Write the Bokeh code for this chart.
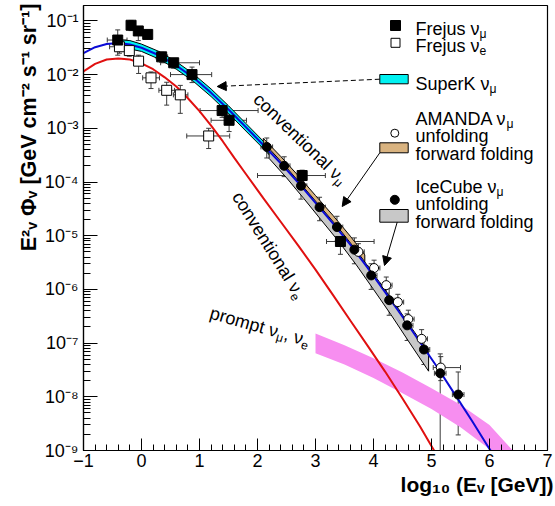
from math import cos, sin, radians
from bokeh.plotting import figure
from bokeh.models import (Range1d, FixedTicker, CustomJSTickFormatter, Label, Arrow,
                          NormalHead, Whisker, TeeHead, ColumnDataSource, Title)
from bokeh.embed import file_html
from bokeh.resources import INLINE

# ---------------- data ----------------
# conventional nu_mu (blue) and nu_e (red) model curves: log10(E/GeV) vs E^2 Phi
conv_numu_x = [-1.0, -0.8, -0.6, -0.4, -0.2, 0.0, 0.3, 0.6, 0.9, 1.2, 1.5, 1.8, 2.1, 2.4,
               2.7, 3.0, 3.3, 3.6, 3.9, 4.2, 4.5, 4.8, 5.1, 5.4, 5.7, 6.0, 6.1]
conv_numu_flux = [2.51e-2, 3.24e-2, 3.72e-2, 3.89e-2, 3.63e-2, 3.16e-2, 2.29e-2, 1.48e-2,
                  8.7e-3, 4.57e-3, 2.24e-3, 1.05e-3, 4.9e-4, 2.24e-4, 9.8e-5, 4.07e-5,
                  1.70e-5, 6.8e-6, 2.51e-6, 8.9e-7, 3.09e-7, 1.05e-7, 3.55e-8, 1.12e-8,
                  3.55e-9, 1.07e-9, 7.4e-10]

conv_nue_x = [-1.0, -0.8, -0.6, -0.4, -0.2, 0.0, 0.2, 0.4, 0.6, 0.8, 1.0, 1.2, 1.4, 1.6,
              1.8, 2.1, 2.4, 2.7, 3.0, 3.3, 3.6, 3.9, 4.2, 4.5, 4.8, 5.1]
conv_nue_flux = [1.15e-2, 1.58e-2, 1.91e-2, 2.0e-2, 1.91e-2, 1.62e-2, 1.26e-2, 8.9e-3,
                 6.0e-3, 3.63e-3, 2.09e-3, 1.12e-3, 5.75e-4, 2.82e-4, 1.41e-4, 5.0e-5,
                 1.82e-5, 6.6e-6, 2.34e-6, 7.9e-7, 2.63e-7, 8.9e-8, 2.95e-8, 9.3e-9,
                 2.82e-9, 7.9e-10]

# prompt nu_mu, nu_e band (magenta)
prompt_x = [3.0, 3.5, 4.0, 4.5, 5.0, 5.5, 6.0, 6.5]
prompt_hi = [1.51e-7, 9.1e-8, 5.2e-8, 2.82e-8, 1.45e-8, 7.1e-9, 3.0e-9, 7.6e-10]
prompt_lo = [6.5e-8, 4.0e-8, 2.24e-8, 1.17e-8, 5.9e-9, 2.7e-9, 1.07e-9, 3.2e-10]

# SuperK nu_mu band (cyan)
superk_x = [-0.45, -0.2, 0.0, 0.3, 0.6, 0.9, 1.2, 1.5, 1.8, 2.1, 2.4, 2.7, 3.0]
superk_hi = [4.5e-2, 4.3e-2, 3.7e-2, 2.7e-2, 1.74e-2, 1.02e-2, 5.4e-3, 2.63e-3, 1.23e-3,
             5.75e-4, 2.63e-4, 1.15e-4, 4.8e-5]
superk_lo = [2.8e-2, 3.0e-2, 2.7e-2, 1.95e-2, 1.26e-2, 7.4e-3, 3.9e-3, 1.9e-3, 8.9e-4,
             4.2e-4, 1.9e-4, 8.3e-5, 3.5e-5]

# AMANDA forward folding band (tan)
amanda_ff_x = [2.1, 2.4, 2.7, 3.0, 3.3, 3.6, 3.85]
amanda_ff_hi = [6.5e-4, 3.0e-4, 1.32e-4, 5.6e-5, 2.4e-5, 9.8e-6, 4.4e-6]
amanda_ff_lo = [4.4e-4, 2.0e-4, 8.7e-5, 3.6e-5, 1.51e-5, 6.0e-6, 2.6e-6]

# IceCube forward folding band (grey)
icecube_ff_x = [2.2, 2.5, 2.8, 3.1, 3.4, 3.7, 4.0, 4.3, 4.6, 4.95]
icecube_ff_hi = [4.2e-4, 1.86e-4, 7.9e-5, 3.3e-5, 1.38e-5, 5.4e-6, 1.95e-6, 6.9e-7,
                 2.34e-7, 6.8e-8]
icecube_ff_lo = [2.75e-4, 1.2e-4, 4.9e-5, 1.95e-5, 7.8e-6, 2.9e-6, 1.0e-6, 3.4e-7,
                 1.1e-7, 3.0e-8]

# Frejus nu_mu (filled squares)
frejus_numu_x = [-0.41, -0.18, -0.055, 0.107, 0.348, 0.555, 0.871, 1.39, 1.51, 2.77, 3.43]
frejus_numu_flux = [4.4e-2, 8.3e-2, 6.5e-2, 5.6e-2, 2.14e-2, 1.66e-2, 1.0e-2, 2.14e-3,
                    1.41e-3, 1.32e-4, 7.8e-6]
frejus_numu_hi = [6.8e-2, 1.02e-1, 7.6e-2, 6.6e-2, 2.6e-2, 1.9e-2, 1.38e-2, 2.6e-3,
                  1.86e-3, 1.66e-4, 1.07e-5]
frejus_numu_lo = [2.3e-2, 6.6e-2, 4.3e-2, 4.7e-2, 1.7e-2, 1.32e-2, 7.1e-3, 1.6e-3,
                  8.7e-4, 1.0e-4, 4.5e-6]
frejus_numu_xlo = [-0.59, -0.18, -0.055, 0.107, 0.25, 0.33, 0.50, 1.01, 1.20, 2.00, 3.19]
frejus_numu_xhi = [-0.25, -0.18, -0.055, 0.107, 0.45, 1.00, 1.21, 2.01, 1.81, 3.17, 4.01]

# Frejus nu_e (open squares)
frejus_nue_x = [-0.38, -0.21, -0.05, 0.164, 0.434, 0.669, 1.158]
frejus_nue_flux = [3.3e-2, 2.8e-2, 1.78e-2, 8.7e-3, 5.1e-3, 4.2e-3, 7.2e-4]
frejus_nue_hi = [4.2e-2, 3.4e-2, 2.3e-2, 1.12e-2, 7.2e-3, 6.3e-3, 1.0e-3]
frejus_nue_lo = [2.5e-2, 2.2e-2, 1.05e-2, 5.5e-3, 2.7e-3, 1.9e-3, 4.2e-4]
frejus_nue_xlo = [-0.55, -0.21, -0.05, 0.02, 0.30, 0.55, 0.78]
frejus_nue_xhi = [-0.20, -0.21, -0.05, 0.31, 0.57, 0.80, 1.52]

# IceCube unfolding (filled circles)
icecube_unf_x = [2.16, 2.46, 2.75, 3.07, 3.37, 3.67, 3.96, 4.27, 4.58, 4.87, 5.15, 5.46]
icecube_unf_flux = [4.5e-4, 2.0e-4, 8.5e-5, 3.4e-5, 1.45e-5, 5.5e-6, 1.82e-6, 6.3e-7,
                    2.14e-7, 7.6e-8, 2.75e-8, 1.1e-8]
icecube_unf_hi = [6.6e-4, 2.95e-4, 1.32e-4, 5.2e-5, 2.3e-5, 9.1e-6, 3.0e-6, 1.05e-6,
                  3.5e-7, 1.2e-7, 6.3e-8, 2.9e-8]
icecube_unf_lo = [2.8e-4, 1.26e-4, 4.8e-5, 1.9e-5, 7.9e-6, 3.0e-6, 1.0e-6, 3.3e-7,
                  1.12e-7, 4.0e-8, 3.2e-10, 1.95e-9]
icecube_unf_xlo = [2.06, 2.36, 2.65, 2.97, 3.27, 3.57, 3.86, 4.17, 4.48, 4.77, 5.05, 5.36]
icecube_unf_xhi = [2.26, 2.56, 2.85, 3.17, 3.47, 3.77, 4.06, 4.37, 4.68, 4.97, 5.25, 5.56]

# AMANDA unfolding (open circles)
amanda_unf_x = [3.74, 4.01, 4.22, 4.42, 4.60, 4.83, 5.16]
amanda_unf_flux = [5.0e-6, 2.5e-6, 1.2e-6, 5.8e-7, 2.8e-7, 1.2e-7, 3.5e-8]
amanda_unf_hi = [7.1e-6, 3.5e-6, 1.7e-6, 8.1e-7, 4.1e-7, 1.78e-7, 5.6e-8]
amanda_unf_lo = [3.5e-6, 1.78e-6, 8.5e-7, 4.1e-7, 2.0e-7, 7.9e-8, 2.0e-8]
amanda_unf_xlo = [3.64, 3.91, 4.12, 4.32, 4.50, 4.73, 5.03]
amanda_unf_xhi = [3.84, 4.11, 4.32, 4.52, 4.70, 4.93, 5.50]

x_ticks = [-1, 0, 1, 2, 3, 4, 5, 6, 7]
y_tick_exponents = [-9, -8, -7, -6, -5, -4, -3, -2, -1]
x_title = "log\u2081\u2080 (E\u1d65 [GeV])"
y_title = "E\u00b2\u1d65 \u03a6\u1d65 [GeV cm\u207b\u00b2 s\u207b\u00b9 sr\u207b\u00b9]"

# ---------------- figure ----------------
FONT = "Liberation Sans"
W, H = 554, 505
BL, BR, BT, BB = 83, 7, 5, 55
PX_PER_DEC = 53.7
FRAME_W = W - BL - BR          # 464 px for 8 units
FRAME_H = H - BT - BB          # 445 px
FRAME_LEFT = BL
FRAME_BOTTOM = H - BB

p = figure(width=W, height=H, x_range=Range1d(-1, 7),
           y_range=Range1d(1e-9, 10 ** (-9 + FRAME_H / PX_PER_DEC)),
           y_axis_type="log", output_backend="svg", toolbar_location=None,
           min_border_left=BL, min_border_right=BR, min_border_top=BT, min_border_bottom=BB)
p.background_fill_color = "white"
p.border_fill_color = "white"
p.outline_line_color = "black"
p.outline_line_width = 1.2
p.grid.visible = False


def X(px):
    """canvas pixel -> data x (layout helper for annotations)"""
    return -1 + (px - FRAME_LEFT) * 8.0 / FRAME_W


def Y(py):
    return 10 ** (-9 + (FRAME_BOTTOM - py) / PX_PER_DEC)


# axes
p.xaxis.ticker = FixedTicker(ticks=x_ticks,
                             minor_ticks=[t + k * 0.2 for t in x_ticks[:-1] for k in range(1, 5)])
p.yaxis.ticker = FixedTicker(ticks=[10.0 ** e for e in y_tick_exponents],
                             minor_ticks=[m * 10.0 ** e for e in y_tick_exponents for m in range(2, 10)])
p.yaxis.formatter = CustomJSTickFormatter(code="""
const sup = {"-": "\u207b", "0": "\u2070", "1": "\u00b9", "2": "\u00b2", "3": "\u00b3",
             "4": "\u2074", "5": "\u2075", "6": "\u2076", "7": "\u2077", "8": "\u2078", "9": "\u2079"};
const e = Math.round(Math.log10(tick));
return "10" + String(e).split("").map(c => sup[c]).join("");
""")
for ax in (p.xaxis, p.yaxis):
    ax.axis_line_color = "black"
    ax.axis_line_width = 1.2
    ax.major_tick_line_color = "black"
    ax.minor_tick_line_color = "black"
    ax.major_tick_out = 0
    ax.minor_tick_out = 0
    ax.major_label_text_font = FONT
    ax.major_label_text_font_size = "18px"
    ax.major_label_text_color = "black"
p.xaxis.major_tick_in = 12
p.xaxis.minor_tick_in = 6
p.yaxis.major_tick_in = 14
p.yaxis.minor_tick_in = 7
p.xaxis.major_label_standoff = 3
p.yaxis.major_label_standoff = 5

# axis titles (ROOT style: right-aligned)
p.add_layout(Title(text=x_title, align="right", text_font=FONT, text_font_size="21px",
                   text_font_style="bold", text_color="black", standoff=2, offset=-6), "below")
p.add_layout(Title(text=y_title, align="right", text_font=FONT, text_font_size="21.5px",
                   text_font_style="bold", text_color="black", standoff=2, offset=-2), "left")

# ---------------- bands ----------------
p.varea(x=prompt_x, y1=prompt_lo, y2=prompt_hi, fill_color="#f78ef0")


def band(xs, lo, hi, color):
    p.patch(x=list(xs) + list(xs)[::-1], y=list(hi) + list(lo)[::-1],
            fill_color=color, line_color="black", line_width=1)


band(superk_x, superk_lo, superk_hi, "#00f2f2")
band(amanda_ff_x, amanda_ff_lo, amanda_ff_hi, "#d9b380")
band(icecube_ff_x, icecube_ff_lo, icecube_ff_hi, "#c8c8c8")

# ---------------- curves ----------------
p.line(conv_nue_x, conv_nue_flux, line_color="#e01010", line_width=2)
p.line(conv_numu_x, conv_numu_flux, line_color="#0b0bd6", line_width=2)

# ---------------- points with error bars ----------------
ERR = "#3a3a3a"


def errors(xs, ys, lo, hi, xlo, xhi):
    ysrc = ColumnDataSource(dict(x=xs, lo=lo, hi=hi))
    p.add_layout(Whisker(source=ysrc, base="x", lower="lo", upper="hi", dimension="height",
                         line_color=ERR, line_width=1,
                         lower_head=TeeHead(size=5, line_color=ERR, line_width=1),
                         upper_head=TeeHead(size=5, line_color=ERR, line_width=1)))
    keep = [i for i in range(len(xs)) if xhi[i] > xlo[i]]
    xsrc = ColumnDataSource(dict(y=[ys[i] for i in keep], lo=[xlo[i] for i in keep],
                                 hi=[xhi[i] for i in keep]))
    p.add_layout(Whisker(source=xsrc, base="y", lower="lo", upper="hi", dimension="width",
                         line_color=ERR, line_width=1,
                         lower_head=TeeHead(size=5, line_color=ERR, line_width=1),
                         upper_head=TeeHead(size=5, line_color=ERR, line_width=1)))


errors(frejus_nue_x, frejus_nue_flux, frejus_nue_lo, frejus_nue_hi, frejus_nue_xlo, frejus_nue_xhi)
errors(frejus_numu_x, frejus_numu_flux, frejus_numu_lo, frejus_numu_hi, frejus_numu_xlo, frejus_numu_xhi)
errors(amanda_unf_x, amanda_unf_flux, amanda_unf_lo, amanda_unf_hi, amanda_unf_xlo, amanda_unf_xhi)
errors(icecube_unf_x, icecube_unf_flux, icecube_unf_lo, icecube_unf_hi, icecube_unf_xlo, icecube_unf_xhi)

p.scatter(frejus_nue_x, frejus_nue_flux, marker="square", size=10, fill_color="white",
          line_color="black", line_width=1)
p.scatter(frejus_numu_x, frejus_numu_flux, marker="square", size=10, fill_color="black",
          line_color="black")
p.scatter(amanda_unf_x, amanda_unf_flux, marker="circle", size=9, fill_color="white",
          line_color="black", line_width=1)
p.scatter(icecube_unf_x, icecube_unf_flux, marker="circle", size=9, fill_color="black",
          line_color="black")

# ---------------- text helper (subscripts as separate real texts) ----------------
REG_W = {' ': 278, '(': 333, ')': 333, ',': 278, '-': 333, '.': 278, '[': 278, ']': 278,
         'A': 667, 'C': 722, 'D': 722, 'E': 667, 'F': 611, 'G': 778, 'I': 278, 'K': 667,
         'M': 833, 'N': 722, 'S': 667, 'V': 667, 'a': 556, 'b': 556, 'c': 500, 'd': 556,
         'e': 556, 'f': 278, 'g': 556, 'i': 222, 'j': 222, 'k': 500, 'l': 222, 'm': 833,
         'n': 556, 'o': 556, 'p': 556, 'r': 333, 's': 500, 't': 278, 'u': 556, 'v': 500,
         'w': 722, 'ν': 500, 'μ': 576, 'Φ': 764}


def tw(s, size):
    return sum(REG_W.get(c, 556) for c in s) * size / 1000.0


def rich(parts, px, py, angle_deg=0.0, size=18.0, color="black"):
    th = radians(angle_deg)
    d = 0.0
    for text, mode in parts:
        if mode == "n":
            fs, perp = size, 0.0
        else:
            fs, perp = size * 0.68, -0.28 * size
        xo = d * cos(th) - perp * sin(th)
        yo = d * sin(th) + perp * cos(th)
        p.add_layout(Label(x=X(px), y=Y(py), x_offset=xo, y_offset=yo, text=text, angle=th,
                           text_font=FONT, text_font_size="%.1fpx" % fs,
                           text_align="left", text_baseline="alphabetic", text_color=color))
        d += tw(text, fs)


# curve annotations
rich([("conventional ν", "n"), ("μ", "sub")], 256, 96, -44)
rich([("conventional ν", "n"), ("e", "sub")], 236, 193, -58)
rich([("prompt ν", "n"), ("μ", "sub"), (", ν", "n"), ("e", "sub")], 210, 312, -16)

# ---------------- legend (manual, ROOT style) ----------------
p.scatter([X(395)], [Y(25)], marker="square", size=10, fill_color="black", line_color="black")
p.scatter([X(395)], [Y(42.3)], marker="square", size=9, fill_color="white", line_color="black")
p.quad(left=[X(379.3)], right=[X(407.7)], top=[Y(74)], bottom=[Y(83.3)],
       fill_color="#00f2f2", line_color="black", line_width=1)
p.scatter([X(394.3)], [Y(132.7)], marker="circle", size=8, fill_color="white", line_color="black")
p.quad(left=[X(379.3)], right=[X(407.7)], top=[Y(142.3)], bottom=[Y(152.3)],
       fill_color="#d9b380", line_color="black", line_width=1)
p.scatter([X(394.3)], [Y(199.3)], marker="circle", size=9, fill_color="black", line_color="black")
p.quad(left=[X(379.3)], right=[X(407.7)], top=[Y(209)], bottom=[Y(221.7)],
       fill_color="#c8c8c8", line_color="black", line_width=1)

rich([("Frejus ν", "n"), ("μ", "sub")], 415, 28)
rich([("Frejus ν", "n"), ("e", "sub")], 415, 45)
rich([("SuperK ν", "n"), ("μ", "sub")], 415, 83)
rich([("AMANDA ν", "n"), ("μ", "sub")], 415, 118)
rich([("unfolding", "n")], 415, 135)
rich([("forward folding", "n")], 415, 153)
rich([("IceCube ν", "n"), ("μ", "sub")], 415, 186.7)
rich([("unfolding", "n")], 415, 203)
rich([("forward folding", "n")], 415, 221.7)

# arrows
p.add_layout(Arrow(end=NormalHead(size=9, fill_color="black", line_color="black"),
                   x_start=X(379.3), y_start=Y(78.7), x_end=X(216.7), y_end=Y(86),
                   line_color="black", line_width=1, line_dash="5 3"))
p.add_layout(Arrow(end=NormalHead(size=9, fill_color="black", line_color="black"),
                   x_start=X(379.3), y_start=Y(152.3), x_end=X(341.7), y_end=Y(206),
                   line_color="black", line_width=1))
p.add_layout(Arrow(end=NormalHead(size=9, fill_color="black", line_color="black"),
                   x_start=X(396.7), y_start=Y(221.7), x_end=X(384), y_end=Y(265),
                   line_color="black", line_width=1))

open("out.html", "w").write(file_html(p, INLINE, "atmospheric neutrino spectrum"))
